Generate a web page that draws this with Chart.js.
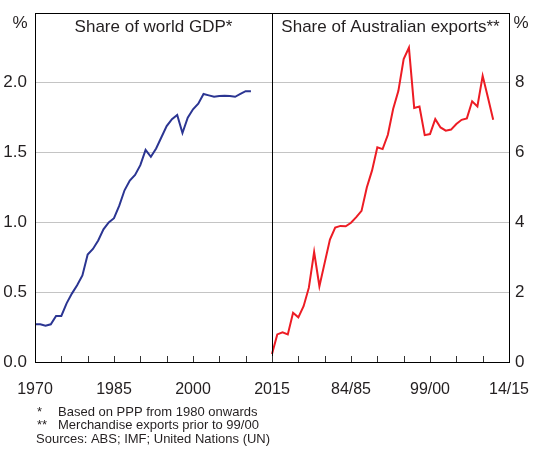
<!DOCTYPE html>
<html>
<head>
<meta charset="utf-8">
<script src="https://cdn.jsdelivr.net/npm/chart.js@4.4.1/dist/chart.umd.min.js"></script>
<style>
  html, body { margin: 0; padding: 0; background: #fff; }
  #wrap { position: relative; width: 534px; height: 450px; }
</style>
</head>
<body>
<div id="wrap"><canvas id="chart" width="534" height="450"></canvas></div>
<script>
// left panel: share of world GDP, calendar years
const gdpYears = [
  1970, 1971, 1972, 1973, 1974, 1975, 1976, 1977, 1978, 1979,
  1980, 1981, 1982, 1983, 1984, 1985, 1986, 1987, 1988, 1989,
  1990, 1991, 1992, 1993, 1994, 1995, 1996, 1997, 1998, 1999,
  2000, 2001, 2002, 2003, 2004, 2005, 2006, 2007, 2008, 2009,
  2010, 2011
];
const gdpShare = [
  0.27, 0.27, 0.26, 0.27, 0.33, 0.33, 0.42, 0.49, 0.55, 0.62,
  0.77, 0.81, 0.87, 0.95, 1.0, 1.03, 1.12, 1.23, 1.3, 1.34,
  1.41, 1.52, 1.47, 1.53, 1.61, 1.69, 1.74, 1.77, 1.64, 1.75,
  1.81, 1.85, 1.92, 1.91, 1.9, 1.905, 1.907, 1.905, 1.9, 1.92,
  1.94, 1.94
];

// right panel: share of Australian exports, financial years
const exportYears = [
  '69/70', '70/71', '71/72', '72/73', '73/74', '74/75', '75/76', '76/77', '77/78', '78/79',
  '79/80', '80/81', '81/82', '82/83', '83/84', '84/85', '85/86', '86/87', '87/88', '88/89',
  '89/90', '90/91', '91/92', '92/93', '93/94', '94/95', '95/96', '96/97', '97/98', '98/99',
  '99/00', '00/01', '01/02', '02/03', '03/04', '04/05', '05/06', '06/07', '07/08', '08/09',
  '09/10', '10/11', '11/12'
];
const exportShare = [
  0.23, 0.79, 0.85, 0.79, 1.41, 1.28, 1.6, 2.13, 3.15, 2.17,
  2.84, 3.51, 3.85, 3.9, 3.89, 3.99, 4.15, 4.33, 5.0, 5.49,
  6.15, 6.1, 6.51, 7.25, 7.77, 8.68, 9.01, 7.28, 7.32, 6.5,
  6.53, 6.96, 6.72, 6.63, 6.66, 6.82, 6.94, 6.98, 7.47, 7.32,
  8.2, 7.58, 6.94
];

// shared x axis: 0..45 is the left panel (1970-2015), 45..90 the right one (69/70-14/15)
const xTickLabels = { 0: '1970', 15: '1985', 30: '2000', 45: '2015', 60: '84/85', 75: '99/00', 90: '14/15' };
const leftTickLabels = ['0.0', '0.5', '1.0', '1.5', '2.0'];
const rightTickLabels = ['0', '2', '4', '6', '8'];
const panelTitles = ['Share of world GDP*', 'Share of Australian exports**'];
const footnotes = [
  ['*', 'Based on PPP from 1980 onwards'],
  ['**', 'Merchandise exports prior to 99/00'],
  ['', 'Sources: ABS; IMF; United Nations (UN)']
];

const FONT = '"Liberation Sans", Arial, sans-serif';
const INK = '#231f20';
const GRID = '#c4c4c4';

const panelFrame = {
  id: 'panelFrame',
  afterDatasetsDraw(chart) {
    const ctx = chart.ctx;
    const area = chart.chartArea;
    const xs = chart.scales.x;
    const midX = xs.getPixelForValue(45);
    ctx.save();
    ctx.strokeStyle = '#000';
    ctx.lineWidth = 1;
    ctx.strokeRect(Math.round(area.left) + 0.5, Math.round(area.top) + 0.5,
      Math.round(area.right - area.left), Math.round(area.bottom - area.top));
    ctx.beginPath();
    ctx.moveTo(Math.round(midX) + 0.5, area.top);
    ctx.lineTo(Math.round(midX) + 0.5, area.bottom);
    ctx.stroke();
    // tick marks pointing up into the plot
    ctx.strokeStyle = '#333';
    for (let v = 5; v < 90; v += 5) {
      const px = Math.round(xs.getPixelForValue(v)) + 0.5;
      ctx.beginPath();
      ctx.moveTo(px, area.bottom);
      ctx.lineTo(px, area.bottom - 6);
      ctx.stroke();
    }
    ctx.fillStyle = INK;
    ctx.font = '17px ' + FONT;
    ctx.textBaseline = 'middle';
    ctx.textAlign = 'center';
    ctx.fillText(panelTitles[0], (area.left + midX) / 2, 27);
    ctx.fillText(panelTitles[1], (midX + area.right) / 2, 27);
    ctx.fillText('%', 20, 23);
    ctx.fillText('%', 521, 23);
    ctx.font = '13px ' + FONT;
    ctx.textAlign = 'left';
    footnotes.forEach((note, i) => {
      const y = 412 + i * 13.5;
      if (note[0]) {
        ctx.fillText(note[0], 37, y);
        ctx.fillText(note[1], 58, y);
      } else {
        ctx.fillText(note[1], 36, y);
      }
    });
    ctx.restore();
  }
};

const gridColor = (c) => {
  const v = c.tick ? c.tick.value : 0;
  return (v <= 0 || v >= 2.5) ? 'rgba(0,0,0,0)' : GRID;
};

const fixWidth = (w) => (s) => {
  s.width = w;
  s.paddingTop = 0;
  s.paddingBottom = 0;
};

new Chart(document.getElementById('chart'), {
  type: 'line',
  data: {
    datasets: [
      {
        label: panelTitles[0],
        data: gdpYears.map((yr, i) => ({ x: yr - 1970, y: gdpShare[i] })),
        borderColor: '#2b3592',
        borderWidth: 2,
        pointRadius: 0,
        tension: 0,
        yAxisID: 'y'
      },
      {
        label: panelTitles[1],
        data: exportYears.map((fy, i) => ({ x: 45 + i, y: exportShare[i] })),
        borderColor: '#ed1c24',
        borderWidth: 2,
        pointRadius: 0,
        tension: 0,
        yAxisID: 'y2'
      }
    ]
  },
  options: {
    responsive: false,
    animation: false,
    devicePixelRatio: 1,
    layout: { padding: { top: 13, left: 0, right: 0, bottom: 0 } },
    plugins: { legend: { display: false }, tooltip: { enabled: false } },
    scales: {
      x: {
        type: 'linear',
        min: 0,
        max: 90,
        grid: { display: false },
        border: { display: false },
        ticks: {
          stepSize: 5,
          autoSkip: false,
          maxRotation: 0,
          padding: 10,
          color: INK,
          font: { family: FONT, size: 16 },
          callback: (v) => xTickLabels[v] || ''
        },
        afterFit: (s) => {
          s.height = 88;
          s.paddingLeft = 0;
          s.paddingRight = 0;
        }
      },
      y: {
        position: 'left',
        min: 0,
        max: 2.5,
        grid: { color: gridColor, lineWidth: 1, drawTicks: false },
        border: { display: false },
        ticks: {
          stepSize: 0.5,
          padding: 8,
          color: INK,
          font: { family: FONT, size: 17 },
          callback: (v) => leftTickLabels[Math.round(v / 0.5)] || ''
        },
        afterFit: fixWidth(35)
      },
      y2: {
        position: 'right',
        min: 0,
        max: 10,
        grid: { display: false, drawTicks: false },
        border: { display: false },
        ticks: {
          stepSize: 2,
          padding: 6,
          color: INK,
          font: { family: FONT, size: 17 },
          callback: (v) => rightTickLabels[Math.round(v / 2)] || ''
        },
        afterFit: fixWidth(25)
      }
    }
  },
  plugins: [panelFrame]
});
</script>
</body>
</html>
